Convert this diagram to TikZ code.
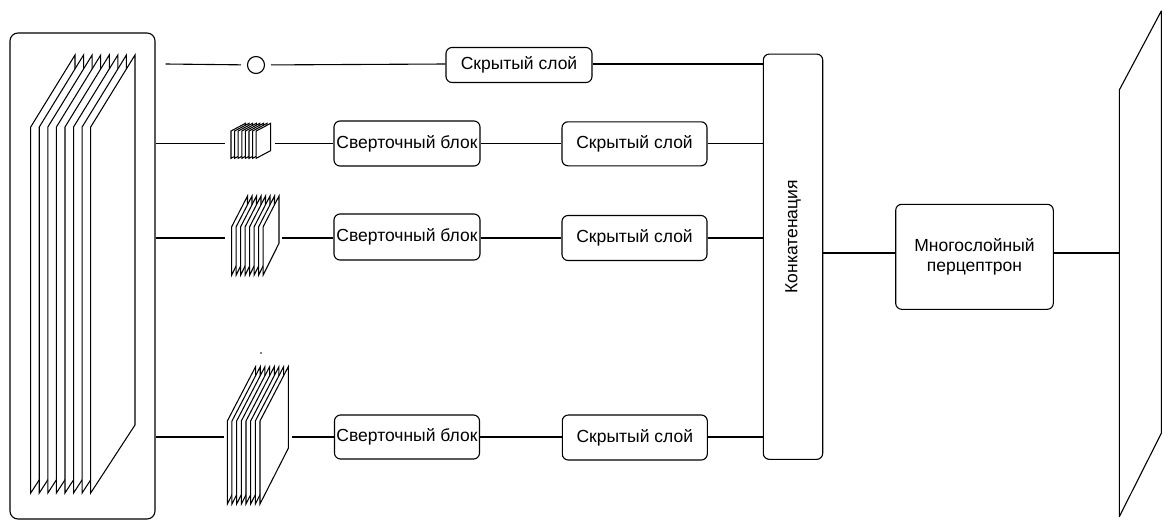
\documentclass[tikz,border=0pt]{standalone}
\usepackage{fontspec}
\setmainfont{Liberation Sans}
\newcommand{\sheetstack}[8]{% x0, spacing, n, dx, topfront, topback, botfront, botback
  \foreach \i in {1,...,#3}{
    \pgfmathsetmacro{\stkxa}{#1+(\i-1)*#2}
    \pgfmathsetmacro{\stkxb}{\stkxa+#4}
    \path[sheet] (\stkxa,#5) -- (\stkxb,#6) -- (\stkxb,#8) -- (\stkxa,#7) -- cycle;
  }}
\begin{document}
\begin{tikzpicture}[x=1pt,y=-1pt,
  box/.style={draw, rounded corners=6pt, line width=1.1pt, inner sep=1pt, align=center,
              font=\fontsize{17.5}{20}\selectfont},
  conn/.style={line width=1.1pt},
  sheet/.style={draw, fill=white, line width=1.05pt, line join=miter},
  ghost/.style={inner sep=0pt, outer sep=0pt}]

\useasboundingbox (0,0) rectangle (1163,520);

% row levels
\coordinate (r0) at (0,64);
\coordinate (r1) at (0,143.5);
\coordinate (r2) at (0,238);
\coordinate (r3) at (0,437);
\coordinate (rm) at (0,253);

% input block
\node[draw, rounded corners=8pt, line width=1.1pt, minimum width=145pt, minimum height=486pt] (in) at (82.5,276) {};
\sheetstack{30.7}{8.57}{8}{44.3}{127}{55}{493}{425}

% small stacks
\sheetstack{231}{3.6}{8}{14.5}{131}{123.3}{158.3}{150.6}
\node[ghost, minimum width=39.7pt, minimum height=35pt] (s1) at (250.85,140.8) {};
\sheetstack{231.7}{4.5}{8}{15.8}{226.7}{196}{275}{243.3}
\node[ghost, minimum width=47.3pt, minimum height=79pt] (s2) at (255.35,235.5) {};
\sheetstack{227.3}{4.67}{8}{28.3}{421}{366.7}{504}{448.3}
\node[ghost, minimum width=61pt, minimum height=137.3pt] (s3) at (257.8,435.35) {};
\fill (261,353) circle (0.8pt);

% pooling circle
\node[draw, circle, line width=1.1pt, minimum size=17pt, inner sep=0pt, outer sep=6.5pt] (circ) at (256,65) {};

% boxes
\node[box, minimum width=146pt, minimum height=35pt] (h0) at (519,65) {Скрытый слой};
\node[box, minimum width=146pt, minimum height=45pt] (c1) at (407,143.5) {Сверточный блок};
\node[box, minimum width=145pt, minimum height=44pt] (h1) at (634.5,143.8) {Скрытый слой};
\node[box, minimum width=146pt, minimum height=46pt] (c2) at (407,237) {Сверточный блок};
\node[box, minimum width=145pt, minimum height=45pt] (h2) at (634.5,238) {Скрытый слой};
\node[box, minimum width=145pt, minimum height=44pt] (c3) at (407,437) {Сверточный блок};
\node[box, minimum width=145pt, minimum height=45pt] (h3) at (634.8,437.5) {Скрытый слой};
\node[draw, rounded corners=6pt, line width=1.1pt, minimum width=59.4pt, minimum height=405.3pt] (cat) at (793,256.7) {};
\node[rotate=90, font=\fontsize{17.5}{20}\selectfont] (cattext) at (793,236.7) {Конкатенация};
\node[box, minimum width=157.6pt, minimum height=105pt] (mlp) at (974.5,256.8) {Многослойный\\перцептрон};

% output layer
\draw[line width=1.1pt, line join=round] (1119.3,90) -- (1161.3,11) -- (1161.3,433.3) -- (1119.3,516.7) -- cycle;
\coordinate (outL) at (1119.3,253);

% connectors row 0
\draw[conn] ([xshift=10pt]in.east |- r0) -- (circ);
\draw[conn] (circ) -- (h0.west |- r0);
\draw[conn] (h0.east |- r0) -- (cat.west |- r0);
% row 1
\draw[conn] (in.east |- r1) -- ([xshift=-6pt]s1.west |- r1);
\draw[conn] ([xshift=4pt]s1.east |- r1) -- (c1.west |- r1);
\draw[conn] (c1.east |- r1) -- (h1.west |- r1);
\draw[conn] (h1.east |- r1) -- (cat.west |- r1);
% row 2
\draw[conn] (in.east |- r2) -- ([xshift=-6.5pt]s2.west |- r2);
\draw[conn] ([xshift=2.7pt]s2.east |- r2) -- (c2.west |- r2);
\draw[conn] (c2.east |- r2) -- (h2.west |- r2);
\draw[conn] (h2.east |- r2) -- (cat.west |- r2);
% row 3
\draw[conn] (in.east |- r3) -- ([xshift=-3.3pt]s3.west |- r3);
\draw[conn] ([xshift=3.4pt]s3.east |- r3) -- (c3.west |- r3);
\draw[conn] (c3.east |- r3) -- (h3.west |- r3);
\draw[conn] (h3.east |- r3) -- (cat.west |- r3);
% to MLP and output
\draw[conn] (cat.east |- rm) -- (mlp.west |- rm);
\draw[conn] (mlp.east |- rm) -- (outL);
\end{tikzpicture}
\end{document}
